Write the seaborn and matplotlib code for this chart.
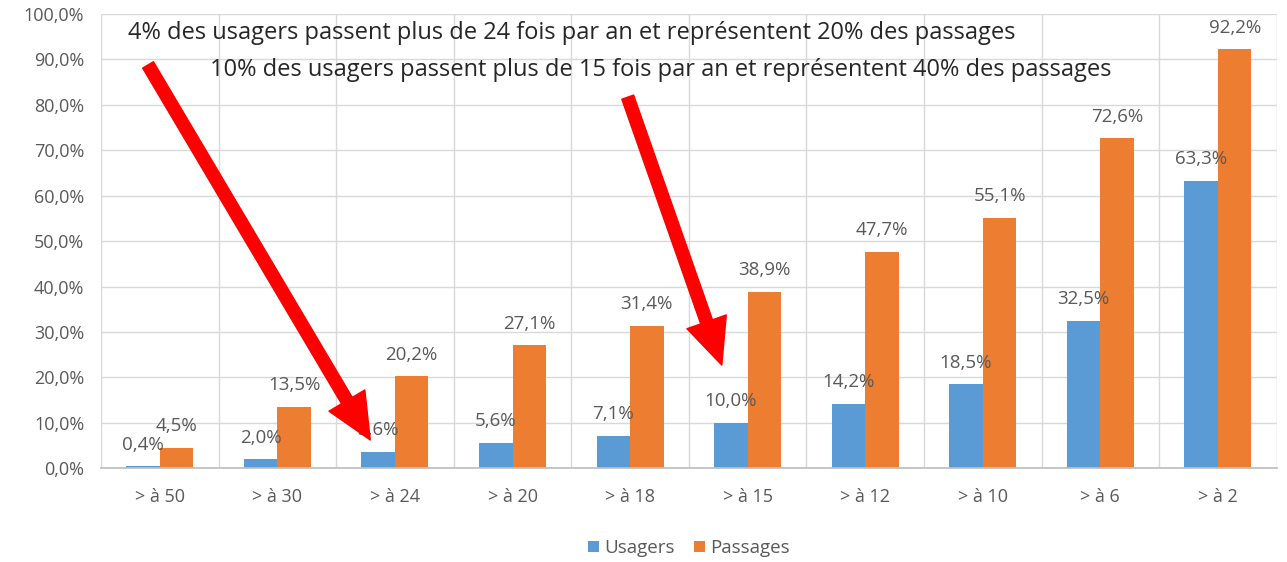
import numpy as np
import pandas as pd
import matplotlib.pyplot as plt
import seaborn as sns
from matplotlib.ticker import FuncFormatter, MultipleLocator

# data
categories = ["> à 50", "> à 30", "> à 24", "> à 20", "> à 18",
              "> à 15", "> à 12", "> à 10", "> à 6", "> à 2"]
usagers = [0.4, 2.0, 3.6, 5.6, 7.1, 10.0, 14.2, 18.5, 32.5, 63.3]
passages = [4.5, 13.5, 20.2, 27.1, 31.4, 38.9, 47.7, 55.1, 72.6, 92.2]
series = ["Usagers", "Passages"]
colors = ["#5B9BD5", "#ED7D31"]

note_1 = "4% des usagers passent plus de 24 fois par an et représentent 20% des passages"
note_2 = "10% des usagers passent plus de 15 fois par an et représentent 40% des passages"

df = pd.DataFrame({
    "cat": categories * 2,
    "val": usagers + passages,
    "serie": [series[0]] * len(categories) + [series[1]] * len(categories),
})

sns.set_theme(style="white")
plt.rcParams["font.family"] = ["Open Sans", "DejaVu Sans"]
grey = "#595959"

fig = plt.figure(figsize=(12.87, 5.62), dpi=100)
ax = fig.add_axes([0.0785, 0.167, 0.9135, 0.808])

sns.barplot(data=df, x="cat", y="val", hue="serie", palette=colors,
            width=0.57, saturation=1, linewidth=0, ax=ax, legend=True)

ax.set_ylim(0, 100)
ax.set_xlim(-0.5, len(categories) - 0.5)
ax.yaxis.set_major_locator(MultipleLocator(10))
ax.yaxis.set_major_formatter(FuncFormatter(lambda v, p: f"{v:.1f}%".replace(".", ",")))
ax.set_xlabel("")
ax.set_ylabel("")

# excel-like grid: horizontal every 10 %, vertical between categories
ax.set_axisbelow(True)
ax.yaxis.grid(True, color="#D9D9D9", lw=1)
for b in np.arange(-0.5, len(categories), 1.0):
    ax.axvline(b, color="#D9D9D9", lw=1, zorder=0)
for s in ["top", "left", "right"]:
    ax.spines[s].set_visible(False)
ax.spines["bottom"].set_color("#BFBFBF")

ax.tick_params(axis="both", length=0, colors=grey, labelsize=13)
ax.tick_params(axis="y", pad=12)
ax.tick_params(axis="x", pad=14)

# value labels
for cont in ax.containers:
    labs = [f"{b.get_height():.1f}%".replace(".", ",") for b in cont]
    ax.bar_label(cont, labels=labs, padding=9, color=grey, fontsize=13.5)

# legend at the bottom
ax.legend(loc="center", bbox_to_anchor=(0.5, -0.176), ncol=2, frameon=False,
          fontsize=13.5, handlelength=0.6, handleheight=0.6, handletextpad=0.3,
          columnspacing=1.0, labelcolor=grey)

# annotations
ax.text(-0.27, 95.8, note_1, fontsize=17, color="#262626", va="center", ha="left")
ax.text(0.43, 87.7, note_2, fontsize=17, color="#262626", va="center", ha="left")

arrow = dict(facecolor="#FF0000", edgecolor="#FF0000", width=9, headwidth=30, headlength=33)
ax.annotate("", xy=(1.79, 6.2), xytext=(-0.1, 88.8), arrowprops=arrow)
ax.annotate("", xy=(4.78, 22.7), xytext=(3.98, 81.7), arrowprops=arrow)

fig.savefig("out.png", dpi=100)
